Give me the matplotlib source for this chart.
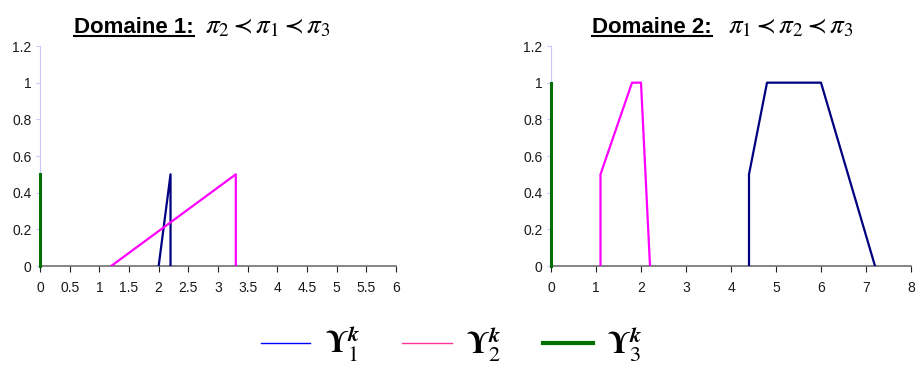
import matplotlib.pyplot as plt
from matplotlib.lines import Line2D

plt.rcParams['mathtext.fontset'] = 'stix'
plt.rcParams['font.family'] = 'Liberation Sans'

# Domaine 1
d1_x1 = [2.0, 2.2, 2.2]
d1_y1 = [0.0, 0.5, 0.0]
d1_x2 = [1.2, 3.3, 3.3]
d1_y2 = [0.0, 0.5, 0.0]
d1_x3 = [0.0, 0.0]
d1_y3 = [0.0, 0.5]

# Domaine 2
d2_x1 = [4.4, 4.4, 4.8, 6.0, 7.2]
d2_y1 = [0.0, 0.5, 1.0, 1.0, 0.0]
d2_x2 = [1.1, 1.1, 1.8, 2.0, 2.2]
d2_y2 = [0.0, 0.5, 1.0, 1.0, 0.0]
d2_x3 = [0.0, 0.0]
d2_y3 = [0.0, 1.0]

xt1 = [0, 0.5, 1, 1.5, 2, 2.5, 3, 3.5, 4, 4.5, 5, 5.5, 6]
xt2 = [0, 1, 2, 3, 4, 5, 6, 7, 8]
yt = [0, 0.2, 0.4, 0.6, 0.8, 1, 1.2]
yt_lab = ["0", "0.2", "0.4", "0.6", "0.8", "1", "1.2"]

W, H = 916, 365
fig = plt.figure(figsize=(W / 100, H / 100), dpi=100)

ax1 = fig.add_axes([40 / W, 1 - 266 / H, (396 - 40) / W, (266 - 46) / H])
ax2 = fig.add_axes([551 / W, 1 - 266 / H, (911 - 551) / W, (266 - 46) / H])

navy = "#000080"
mag = "#ff00ff"
green = "#007000"

ax1.plot(d1_x1, d1_y1, color=navy, lw=1.6, zorder=5)
ax1.plot(d1_x2, d1_y2, color=mag, lw=1.6, zorder=5)
ax1.plot(d1_x3, d1_y3, color=green, lw=2.2, zorder=6, clip_on=False)
ax2.plot(d2_x1, d2_y1, color=navy, lw=1.6, zorder=5)
ax2.plot(d2_x2, d2_y2, color=mag, lw=1.6, zorder=5)
ax2.plot(d2_x3, d2_y3, color=green, lw=2.2, zorder=6, clip_on=False)

for ax, xt, xmax in [(ax1, xt1, 6), (ax2, xt2, 8)]:
    ax.set_xlim(0, xmax)
    ax.set_ylim(0, 1.2)
    ax.set_xticks(xt)
    ax.set_xticklabels([("%g" % v) for v in xt])
    ax.set_yticks(yt)
    ax.set_yticklabels(yt_lab)
    ax.spines['top'].set_visible(False)
    ax.spines['right'].set_visible(False)
    ax.spines['left'].set_color("#c8c8ff")
    ax.spines['left'].set_zorder(1)
    ax.spines['bottom'].set_color("#707070")
    ax.spines['bottom'].set_linewidth(1.2)
    ax.tick_params(axis='x', direction='out', length=4, color="#202020",
                   labelsize=10, labelcolor="#1a1a1a", pad=7)
    ax.tick_params(axis='y', direction='out', length=3, color="#c8c8ff",
                   labelsize=10, labelcolor="#1a1a1a", pad=3)
    ax.patch.set_alpha(0)

# titles
t1 = fig.text(74 / W, 1 - 33 / H, "Domaine 1:", fontsize=16, fontweight='bold',
              va='baseline', ha='left')
m1 = fig.text(205 / W, 1 - 33 / H, r"$\pi_2 \prec \pi_1 \prec \pi_3$",
              fontsize=19.5, va='baseline', ha='left')
t2 = fig.text(592 / W, 1 - 33 / H, "Domaine 2:", fontsize=16, fontweight='bold',
              va='baseline', ha='left')
m2 = fig.text(728 / W, 1 - 33 / H, r"$\pi_1 \prec \pi_2 \prec \pi_3$",
              fontsize=19.5, va='baseline', ha='left')

fig.canvas.draw()
r = fig.canvas.get_renderer()
for t in (t1, t2):
    bb = t.get_window_extent(r)
    y = (H - 36) / H
    fig.add_artist(Line2D([bb.x0 / W, bb.x1 / W], [y, y], color='black', lw=1.5,
                          transform=fig.transFigure))

handles = [
    Line2D([], [], color="#0000ff", lw=1.0),
    Line2D([], [], color="#ff3399", lw=1.0),
    Line2D([], [], color="#007000", lw=3.0),
]
labels = [r"$\mathbf{\Upsilon}_{1}^{\mathbfit{k}}$",
          r"$\mathbf{\Upsilon}_{2}^{\mathbfit{k}}$",
          r"$\mathbf{\Upsilon}_{3}^{\mathbfit{k}}$"]
fig.legend(handles, labels, loc='center', bbox_to_anchor=(452 / W, 1 - 344 / H),
           ncol=3, frameon=False, fontsize=23, handlelength=1.55,
           columnspacing=1.3, handletextpad=0.45)

fig.savefig("out.png", dpi=100)
